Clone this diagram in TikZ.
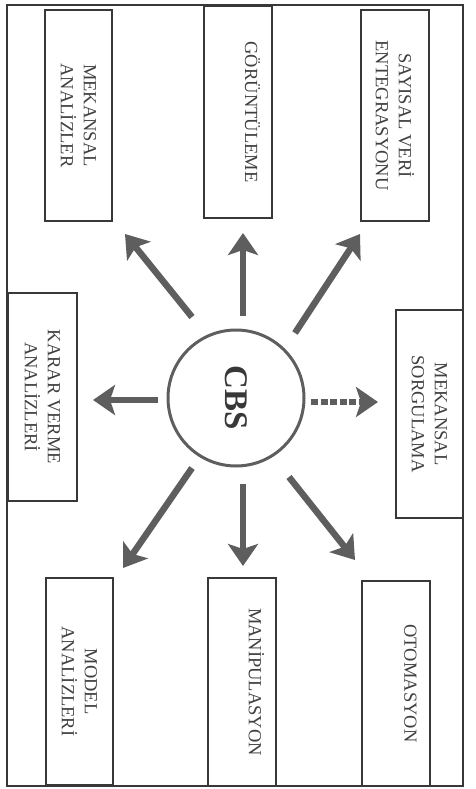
\documentclass[tikz,border=0pt]{standalone}
\usepackage{fontspec}
\setmainfont{Liberation Serif}
\usetikzlibrary{arrows.meta}
\definecolor{framegray}{HTML}{383838}
\definecolor{arrowgray}{HTML}{5E5E5E}
\definecolor{textgray}{HTML}{404040}
\begin{document}
\begin{tikzpicture}[x=1pt,y=-1pt,
  box/.style={draw=framegray, line width=1.3pt, rotate=-90, align=center,
    inner sep=0pt, text=textgray, font=\fontsize{18.5}{23}\selectfont},
  ray/.style={draw=arrowgray, line width=6.5pt,
    -{Stealth[length=22pt,width=30pt,inset=5pt]}}]
\useasboundingbox (0,0) rectangle (475,789);
% outer frame
\draw[framegray, line width=1.3pt] (7,5) rectangle (463,786);
% boxes
\node[box, minimum width=211pt, minimum height=67pt] (ma) at (78.5,115.5) {MEKANSAL\\ANALİZLER};
\node[box, minimum width=212pt, minimum height=68pt] (gor) at (238,112) {GÖRÜNTÜLEME\\[6pt]\mbox{}};
\node[box, minimum width=211pt, minimum height=68pt] (say) at (395,115.5) {SAYISAL VERİ\\ENTEGRASYONU};
\node[box, minimum width=208pt, minimum height=69pt] (karar) at (42.5,397) {KARAR VERME\\ANALİZLERİ};
\node[box, minimum width=208pt, minimum height=67pt] (sorg) at (429.5,414) {MEKANSAL\\SORGULAMA};
\node[box, minimum width=207pt, minimum height=67pt] (model) at (79.5,681.5) {MODEL\\ANALİZLERİ};
\node[box, minimum width=208pt, minimum height=68pt] (mani) at (242,682) {MANİPULASYON\\[6pt]\mbox{}};
\node[box, minimum width=205pt, minimum height=68pt] (oto) at (396,683.5) {OTOMASYON\\[6pt]\mbox{}};
% centre
\node[circle, rotate=-90, draw=arrowgray, line width=3pt, minimum size=136pt,
  inner sep=0pt, text=framegray, font=\fontsize{33}{33}\selectfont\bfseries] (cbs) at (236,398) {CBS};
% arrow ends
\coordinate (s1) at (192,317); \coordinate (t1) at (125,234);
\coordinate (s2) at (243,316); \coordinate (t2) at (243,233);
\coordinate (s3) at (295,333); \coordinate (t3) at (360,234);
\coordinate (s4) at (158,400); \coordinate (t4) at (93,400);
\coordinate (s5) at (311,402); \coordinate (t5) at (378,402);
\coordinate (s6) at (192,468); \coordinate (t6) at (123,568);
\coordinate (s7) at (243,484); \coordinate (t7) at (243,566);
\coordinate (s8) at (289,477); \coordinate (t8) at (355,560);
\draw[ray] (s1) -- (t1);
\draw[ray] (s2) -- (t2);
\draw[ray] (s3) -- (t3);
\draw[ray] (s4) -- (t4);
\draw[ray, dash pattern=on 7pt off 2.5pt] (s5) -- (t5);
\draw[ray] (s6) -- (t6);
\draw[ray] (s7) -- (t7);
\draw[ray] (s8) -- (t8);
\end{tikzpicture}
\end{document}
